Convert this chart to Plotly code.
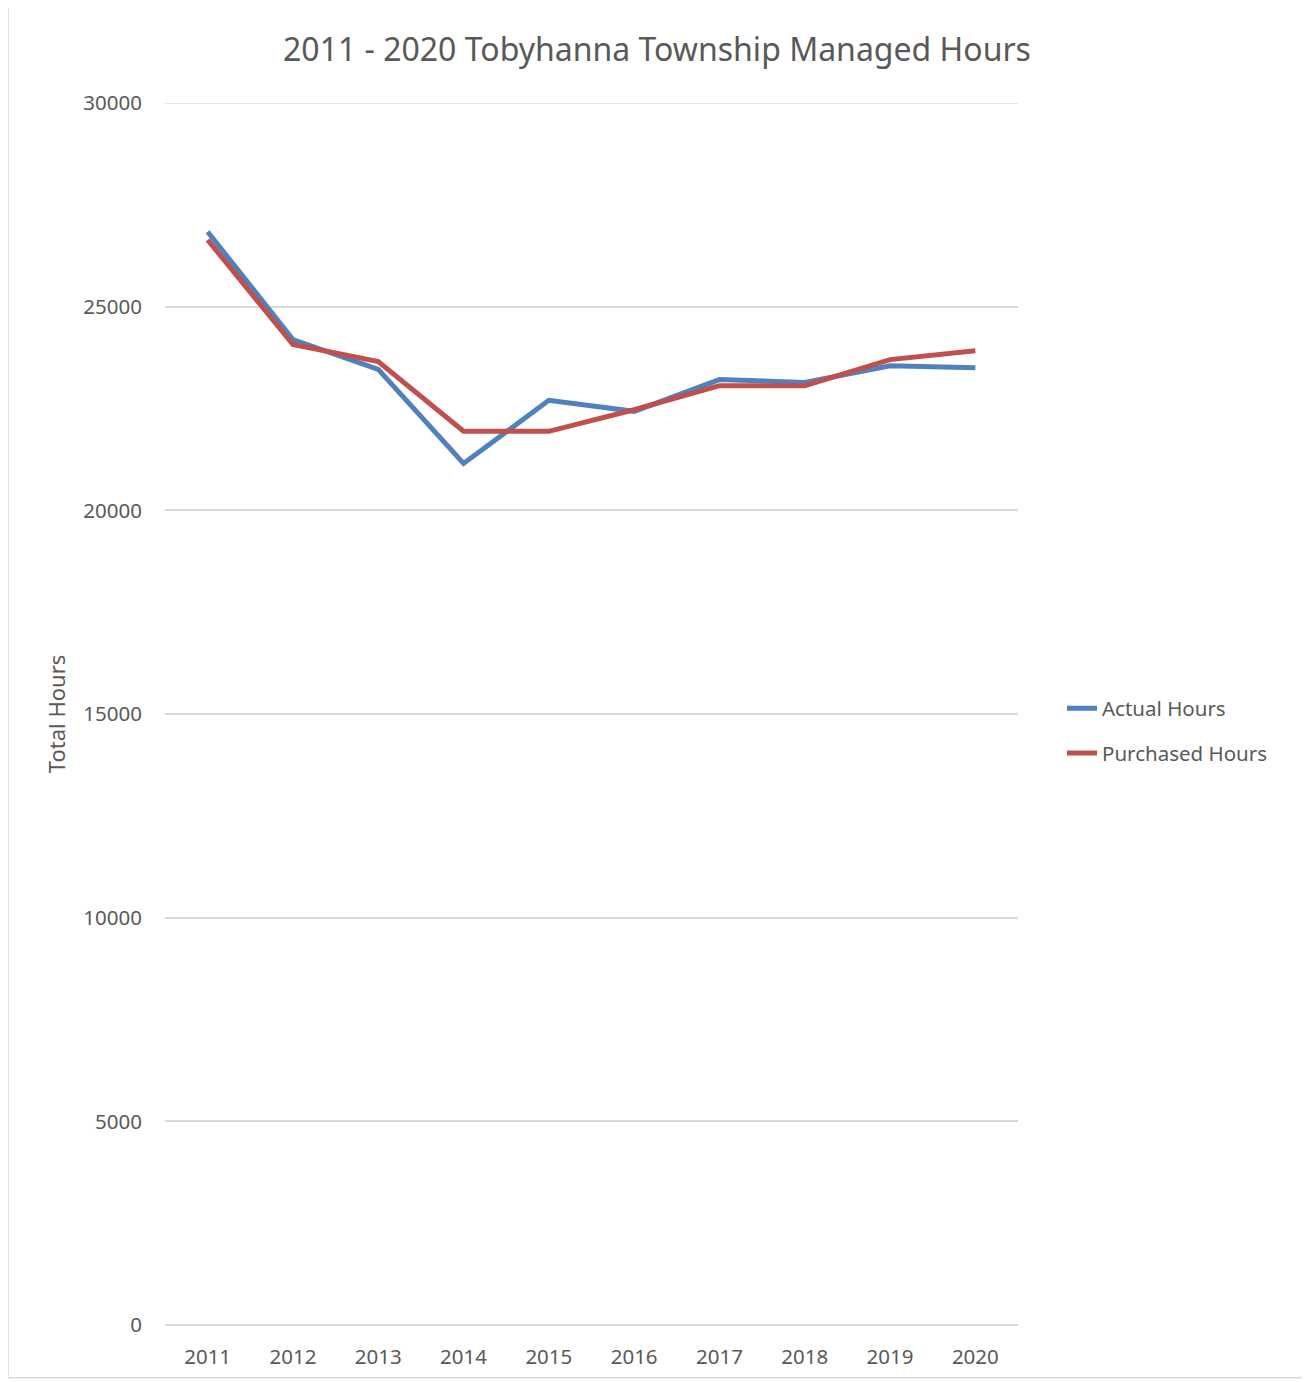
import plotly.graph_objects as go

years = ["2011", "2012", "2013", "2014", "2015", "2016", "2017", "2018", "2019", "2020"]
actual_hours = [26840, 24190, 23460, 21150, 22700, 22430, 23210, 23140, 23550, 23500]
purchased_hours = [26640, 24070, 23650, 21940, 21940, 22470, 23060, 23060, 23700, 23920]
y_ticks = [0, 5000, 10000, 15000, 20000, 25000, 30000]
y_tick_text = ["0", "5000", "10000", "15000", "20000", "25000", "30000"]

FONT = "Noto Sans"
GREY = "#595959"
OFF = 8  # page body margin

fig = go.Figure()
fig.add_trace(go.Scatter(x=years, y=actual_hours, mode="lines", name="Actual Hours",
                         legendgroup="a", line=dict(color="#4F81BD", width=5)))
fig.add_trace(go.Scatter(x=years, y=purchased_hours, mode="lines", name="Purchased Hours",
                         legendgroup="b", line=dict(color="#C0504D", width=5)))

W, H = 1310 - OFF, 1382 - OFF
L, T = 165 - OFF, 103 - OFF
R = W - (1018 - OFF)
B = H - (1329 - OFF)
pw, ph = W - L - R, H - T - B

def px(x):
    return (x - OFF - L) / pw

def py(y):
    return (1327 - y) / ph

fig.update_layout(
    width=W, height=H,
    margin=dict(l=L, r=R, t=T, b=B),
    paper_bgcolor="white", plot_bgcolor="white",
    font=dict(family=FONT, color=GREY, size=18),
    title=dict(text="2011 - 2020 Tobyhanna Township Managed Hours",
               x=(657 - OFF) / W, xanchor="center", y=1 - (50 - OFF) / H, yanchor="middle",
               font=dict(size=32, color=GREY, family=FONT)),
    showlegend=True,
    legend=dict(x=px(1062), xanchor="left", y=py(731), yanchor="middle",
                font=dict(size=20.5, color=GREY), tracegroupgap=15, traceorder="grouped",
                bgcolor="rgba(0,0,0,0)"),
    xaxis=dict(type="category", range=[-0.5, 9.5], showgrid=False, showline=False,
               ticks="", tickfont=dict(size=20.5, color=GREY), ticklabelstandoff=17),
    yaxis=dict(range=[0, 30000], tickvals=y_ticks, ticktext=y_tick_text,
               showgrid=True, gridcolor="#D9D9D9",
               gridwidth=1.5, zeroline=True, zerolinecolor="#D9D9D9", zerolinewidth=1.5,
               showline=False, ticks="", tickfont=dict(size=20.5, color=GREY),
               ticklabelstandoff=22,
               title=dict(text="Total Hours", font=dict(size=22, color=GREY), standoff=11)),
    shapes=[
        dict(type="line", xref="paper", yref="y", x0=0, x1=1, y0=y_ticks[-1], y1=y_ticks[-1],
             line=dict(color="#D9D9D9", width=1.5), layer="below"),
        dict(type="rect", xref="paper", yref="paper",
             x0=px(8), x1=px(1308), y0=py(1380), y1=py(5),
             line=dict(color="#D9D9D9", width=1.5), fillcolor="rgba(0,0,0,0)",
             layer="below"),
    ],
)

fig.write_html("out.html")
